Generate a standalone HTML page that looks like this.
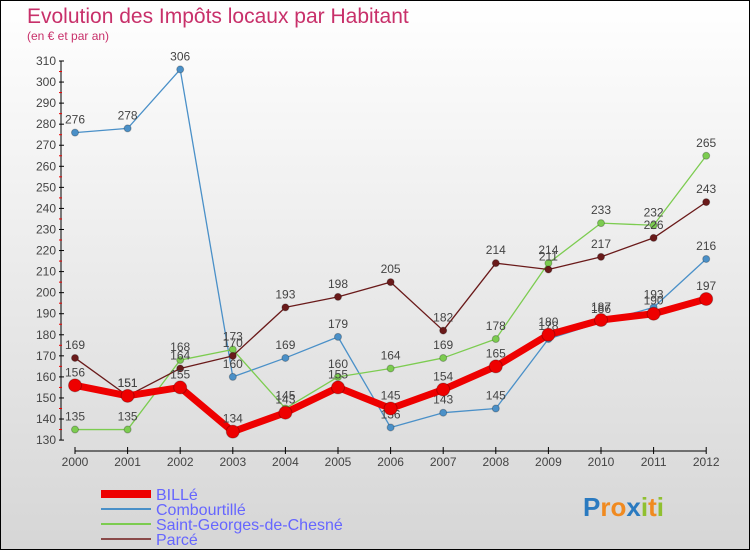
<!DOCTYPE html>
<html><head><meta charset="utf-8"><style>
body{margin:0}
#c{width:748px;height:548px;border:1px solid #000;background:linear-gradient(#fff,#d6d6d6);position:relative;font-family:"Liberation Sans",sans-serif;overflow:hidden}
</style></head><body>
<div id="c">
<svg id="s" width="748" height="548"></svg>
</div>
<script>
const years=["2000","2001","2002","2003","2004","2005","2006","2007","2008","2009","2010","2011","2012"];
const yTicks=[130,140,150,160,170,180,190,200,210,220,230,240,250,260,270,280,290,300,310];
const billeVals=[156,151,155,134,143,155,145,154,165,180,187,190,197];
const combVals=[276,278,306,160,169,179,136,143,145,178,186,193,216];
const sgVals=[135,135,168,173,145,160,164,169,178,214,233,232,265];
const parceVals=[169,151,164,170,193,198,205,182,214,211,217,226,243];
const seriesNames=["BILLé","Combourtillé","Saint-Georges-de-Chesné","Parcé"];
const NS="http://www.w3.org/2000/svg",s=document.getElementById('s');
function X(i){return 74+i*52.6;}
function Y(v){return 60+(310-v)*2.106;}
function el(t,a,p){const e=document.createElementNS(NS,t);for(const k in a)e.setAttribute(k,a[k]);(p||s).appendChild(e);return e;}
function tx(x,y,str,a){const e=el('text',Object.assign({x:x,y:y},a));e.textContent=str;return e;}
let t=tx(26,22,"Evolution des Impôts locaux par Habitant",{fill:"#c8306a","font-size":21});

t=tx(26,39,"(en € et par an)",{fill:"#c8306a","font-size":12});

const ax=el('g',{});
el('line',{x1:60,y1:Y(310),x2:60,y2:Y(130),stroke:"#000"},ax);
yTicks.forEach(v=>{el('line',{x1:58,y1:Y(v),x2:63,y2:Y(v),stroke:"#000"},ax);
 if(v<310)el('line',{x1:58,y1:Y(v+5),x2:61,y2:Y(v+5),stroke:"#e00"},ax);
 tx(55,Y(v)+4,v,{"text-anchor":"end","font-size":12,fill:"#444"});});
const xa=el('g',{});
el('line',{x1:X(0),y1:450,x2:X(12),y2:450,stroke:"#000"},xa);
years.forEach((y,i)=>{el('line',{x1:X(i),y1:446,x2:X(i),y2:453,stroke:"#000"},xa);
 tx(X(i),465,y,{"text-anchor":"middle","font-size":12,fill:"#444"});});
function series(vals,col,w,r,name){const g=el('g',{});
 el('polyline',{points:vals.map((v,i)=>X(i)+','+Y(v)).join(' '),fill:"none",stroke:col,"stroke-width":w,"stroke-linejoin":"round"},g);
 vals.forEach((v,i)=>{const c=el('circle',{cx:X(i),cy:Y(v),r:r,fill:col,stroke:"rgba(0,0,0,0.25)"},g);
  tx(X(i),Y(v)-9,v,{"text-anchor":"middle","font-size":12,fill:"#444"});});}
series(combVals,"#4a90c8",1.3,3.5,"series-combourtille");
series(sgVals,"#7ccc50",1.3,3.5,"series-saint-georges");
series(parceVals,"#6a1a1a",1.3,3.5,"series-parce");
series(billeVals,"#ee0000",7,6.5,"series-bille");
const lg=el('g',{});
const lc=["#ee0000","#4a90c8","#7ccc50","#8a4a4a"],lw=[8,2,2,2];
seriesNames.forEach((n,i)=>{const y=493+i*15;el('line',{x1:100,y1:y,x2:150,y2:y,stroke:lc[i],"stroke-width":lw[i]},lg);
 tx(155,y+6,n,{"font-size":16,fill:"#6666ff"});});
const lo=tx(582,515,"",{"font-size":26,"font-weight":"bold"});
[["P","#2a7ac0"],["r","#f08a20"],["o","#f08a20"],["x","#2a7ac0"],["i","#90c030"],["t","#f08a20"],["i","#90c030"]].forEach(a=>{const ts=el('tspan',{fill:a[1]},lo);ts.textContent=a[0];});
</script>
</body></html>
